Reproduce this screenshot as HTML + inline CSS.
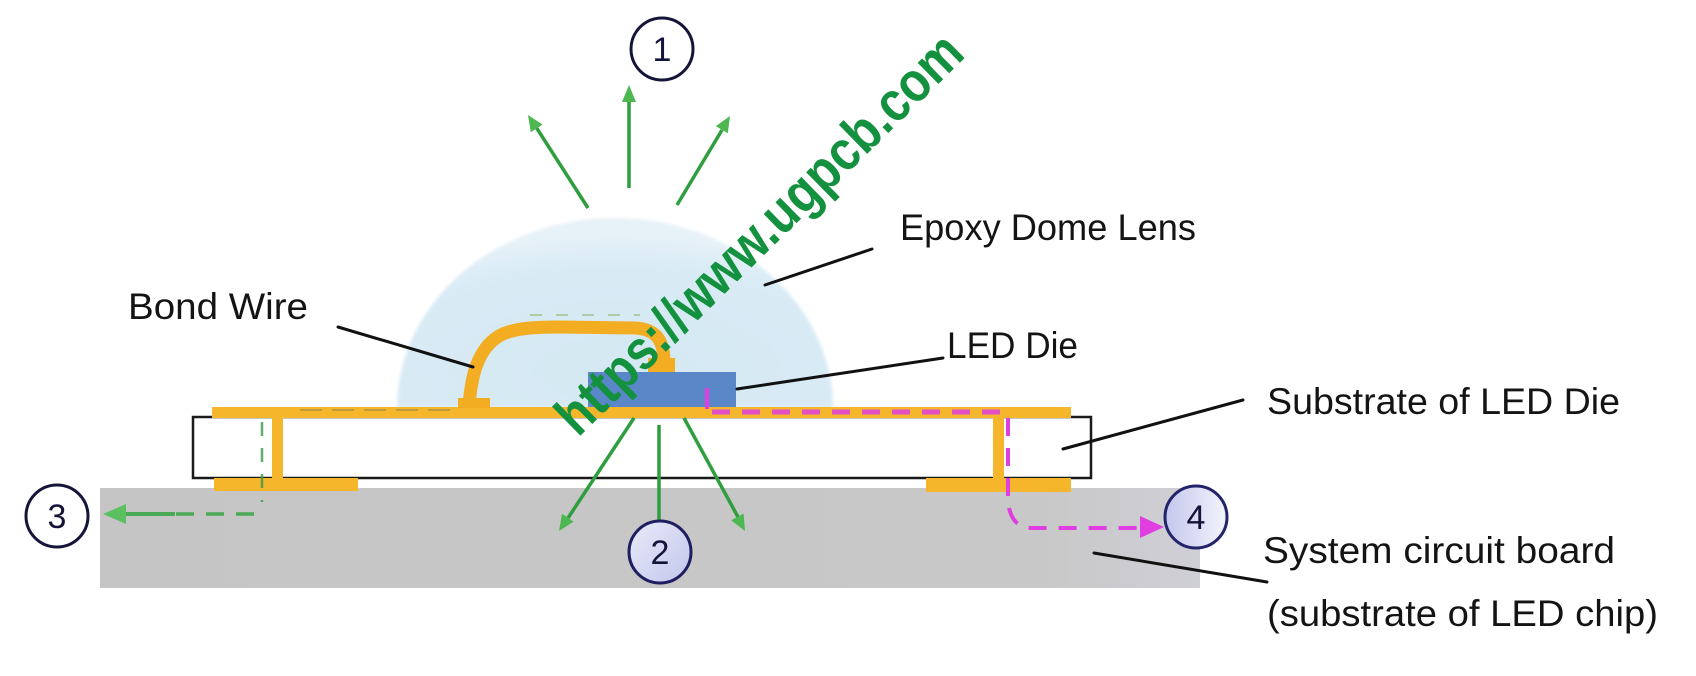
<!DOCTYPE html>
<html>
<head>
<meta charset="utf-8">
<style>
  html,body{margin:0;padding:0;background:#ffffff;}
  svg{display:block;}
  .lbl{font-family:"Liberation Sans",sans-serif;font-size:37px;fill:#141414;}
  .num{font-family:"Liberation Sans",sans-serif;font-size:34px;fill:#14143a;text-anchor:middle;}
</style>
</head>
<body>
<svg width="1696" height="676" viewBox="0 0 1696 676" xmlns="http://www.w3.org/2000/svg">
  <defs>
    <radialGradient id="dome" cx="0.5" cy="0.8" r="0.7">
      <stop offset="0" stop-color="#d4e8f3"/>
      <stop offset="0.8" stop-color="#d9ebf5"/>
      <stop offset="1" stop-color="#e6f1f8"/>
    </radialGradient>
    <linearGradient id="board" x1="0" y1="0" x2="1" y2="0">
      <stop offset="0" stop-color="#c5c5c5"/>
      <stop offset="0.85" stop-color="#c8c8c8"/>
      <stop offset="1" stop-color="#cfcfd6"/>
    </linearGradient>
    <linearGradient id="c2" x1="0" y1="0" x2="1" y2="1">
      <stop offset="0" stop-color="#e8eaf8"/>
      <stop offset="1" stop-color="#c3c7ec"/>
    </linearGradient>
    <linearGradient id="c4" x1="0" y1="0" x2="1" y2="0">
      <stop offset="0" stop-color="#c4c7ee"/>
      <stop offset="1" stop-color="#f4f4fb"/>
    </linearGradient>
    <filter id="soft" x="-5%" y="-5%" width="110%" height="110%">
      <feGaussianBlur stdDeviation="1.5"/>
    </filter>
  </defs>

  <!-- System circuit board -->
  <rect x="100" y="488" width="1100" height="100" fill="url(#board)"/>

  <!-- Epoxy dome -->
  <path d="M397 408 A218 190 0 0 1 833 408 Z" fill="url(#dome)" filter="url(#soft)"/>

  <!-- Substrate of LED die -->
  <rect x="193" y="417" width="898" height="61" fill="#ffffff" stroke="#1a1a1a" stroke-width="2.5"/>

  <!-- Yellow metallization -->
  <rect x="212" y="407" width="859" height="11" fill="#f6b62b"/>
  <rect x="272" y="417" width="11" height="62" fill="#f6b62b"/>
  <rect x="214" y="478" width="144" height="13" fill="#f6b62b"/>
  <rect x="993" y="417" width="11" height="62" fill="#f6b62b"/>
  <rect x="926" y="478" width="145" height="14" fill="#f6b62b"/>

  <!-- faint dashes along trace -->
  <line x1="300" y1="410" x2="460" y2="410" stroke="#9a8a3a" stroke-width="2" stroke-dasharray="22 10" opacity="0.6"/>

  <!-- Bond wire -->
  <rect x="458" y="398" width="32" height="10" fill="#f3ad22"/>
  <path d="M469 406 C471 380 476 350 499 336 C513 328 535 327 560 327 L635 328 C654 329 664 338 664 362" fill="none" stroke="#f3ad22" stroke-width="13" stroke-linecap="butt"/>
  <rect x="648" y="358" width="27" height="15" fill="#f3ad22"/>
  <line x1="530" y1="315" x2="640" y2="315" stroke="#8fb870" stroke-width="2" stroke-dasharray="12 14" opacity="0.6"/>

  <!-- LED die -->
  <rect x="588" y="372" width="148" height="35" fill="#5a87c8"/>

  <!-- Pink heat path (4) -->
  <line x1="707" y1="388" x2="707" y2="409" stroke="#e03ee0" stroke-width="4"/>
  <line x1="712" y1="412" x2="1000" y2="412" stroke="#e03ee0" stroke-width="5" stroke-dasharray="18 12" opacity="0.85"/>
  <path d="M1008 418 L1008 500 Q1010 528 1032 528 L1140 528" fill="none" stroke="#e03ee0" stroke-width="4" stroke-dasharray="18 12"/>
  <polygon points="1164,527 1140,516 1140,538" fill="#e03ee0"/>

  <!-- Green path (3) -->
  <line x1="262" y1="422" x2="262" y2="502" stroke="#3a9a4a" stroke-width="2.5" stroke-dasharray="14 12" opacity="0.8"/>
  <line x1="254" y1="514" x2="175" y2="514" stroke="#4aa957" stroke-width="3.5" stroke-dasharray="18 12"/>
  <line x1="175" y1="514" x2="123" y2="514" stroke="#4aa957" stroke-width="4"/>
  <polygon points="103,514 126,504 126,524" fill="#5cc060"/>

  <!-- Green light arrows top (1) -->
  <g stroke="#2f9e3f" stroke-width="3.5" fill="none">
    <line x1="629" y1="188" x2="629" y2="98"/>
    <line x1="588" y1="208" x2="536" y2="127"/>
    <line x1="677" y1="205" x2="722" y2="130"/>
  </g>
  <g fill="#4cb84f">
    <polygon points="629,85 622,102 636,102"/>
    <polygon points="528,115 542.6,124.6 530.8,132.2"/>
    <polygon points="730,116 727.8,133.3 715.8,126.1"/>
  </g>

  <!-- Green light arrows bottom (2) -->
  <g stroke="#2f9e3f" stroke-width="3.5" fill="none">
    <line x1="659" y1="425" x2="659" y2="525"/>
    <line x1="634" y1="418" x2="568" y2="518"/>
    <line x1="684" y1="418" x2="738" y2="517"/>
  </g>
  <g fill="#4cb84f">
    <polygon points="659,540 652,523 666,523"/>
    <polygon points="559,531 573.6,521.6 562,513.8"/>
    <polygon points="745,531 743.6,513.6 731.2,520.2"/>
  </g>

  <!-- Leader lines -->
  <g stroke="#111" stroke-width="3" stroke-linecap="round">
    <line x1="338" y1="327" x2="473" y2="367"/>
    <line x1="765" y1="285" x2="872" y2="249"/>
    <line x1="737" y1="389" x2="943" y2="358"/>
    <line x1="1063" y1="449" x2="1243" y2="400"/>
    <line x1="1094" y1="553" x2="1267" y2="582"/>
  </g>

  <!-- Circles -->
  <circle cx="662" cy="49" r="31" fill="#ffffff" stroke="#15153a" stroke-width="3"/>
  <text class="num" x="662" y="61">1</text>
  <circle cx="660" cy="552" r="31" fill="url(#c2)" stroke="#1e1e60" stroke-width="3"/>
  <text class="num" x="660" y="564">2</text>
  <circle cx="57" cy="516" r="31" fill="#ffffff" stroke="#15153a" stroke-width="3"/>
  <text class="num" x="57" y="528">3</text>
  <circle cx="1196" cy="517" r="31" fill="url(#c4)" stroke="#24246a" stroke-width="3"/>
  <text class="num" x="1196" y="529">4</text>

  <!-- Labels -->
  <text class="lbl" x="900" y="240" textLength="296" lengthAdjust="spacingAndGlyphs">Epoxy Dome Lens</text>
  <text class="lbl" x="128" y="319" textLength="180" lengthAdjust="spacingAndGlyphs">Bond Wire</text>
  <text class="lbl" x="947" y="358" textLength="131" lengthAdjust="spacingAndGlyphs">LED Die</text>
  <text class="lbl" x="1267" y="414" textLength="353" lengthAdjust="spacingAndGlyphs">Substrate of LED Die</text>
  <text class="lbl" x="1263" y="563" textLength="352" lengthAdjust="spacingAndGlyphs">System circuit board</text>
  <text class="lbl" x="1267" y="626" textLength="391" lengthAdjust="spacingAndGlyphs">(substrate of LED chip)</text>

  <!-- Watermark -->
  <text x="578" y="438" transform="rotate(-44.5 578 438)" font-family="'Liberation Sans',sans-serif" font-weight="bold" font-size="56" fill="#14913f" textLength="545" lengthAdjust="spacingAndGlyphs">https://www.ugpcb.com</text>
</svg>
</body>
</html>
